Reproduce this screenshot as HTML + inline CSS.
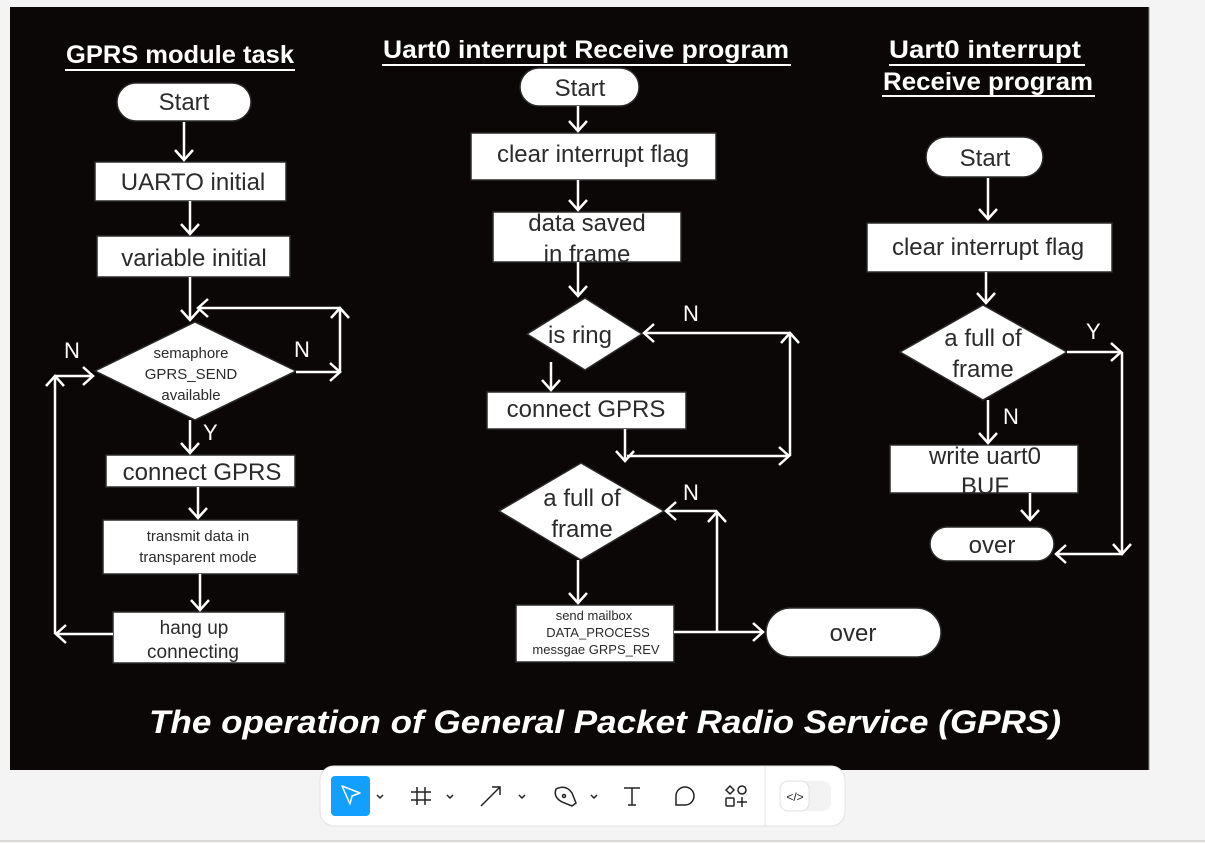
<!DOCTYPE html>
<html><head><meta charset="utf-8"><style>
html,body{margin:0;padding:0;background:#f4f4f4;width:1205px;height:843px;overflow:hidden}
svg{display:block}
</style></head><body>
<svg width="1205" height="843" viewBox="0 0 1205 843" xmlns="http://www.w3.org/2000/svg" font-family="'Liberation Sans', sans-serif">
<defs>
<marker id="a" markerUnits="userSpaceOnUse" markerWidth="24" markerHeight="24" refX="0" refY="0" viewBox="-12 -12 24 24" orient="auto" overflow="visible">
<path d="M-10,-9 L0,0 L-10,9" fill="none" stroke="#fff" stroke-width="2.5"/>
</marker>
<clipPath id="c1"><rect x="493" y="212" width="188" height="50"/></clipPath>
<clipPath id="c2"><rect x="890" y="445" width="188" height="48"/></clipPath>
</defs>
<rect x="0" y="0" width="1205" height="843" fill="#f4f4f4"/>
<rect x="10" y="7" width="1139" height="763" fill="#0c0707"/>
<line x1="1149" y1="7" x2="1149" y2="770" stroke="#888" stroke-width="1"/>
<line x1="0" y1="841" x2="1205" y2="841" stroke="#d8cccc" stroke-width="1.5"/>

<g fill="#fff" font-weight="bold" font-size="25">
<text x="180" y="63" text-anchor="middle" textLength="228" lengthAdjust="spacingAndGlyphs">GPRS module task</text>
<line x1="65" y1="70" x2="295" y2="70" stroke="#fff" stroke-width="2"/>
<text x="586" y="58" text-anchor="middle" textLength="406" lengthAdjust="spacingAndGlyphs">Uart0 interrupt Receive program</text>
<line x1="382" y1="65" x2="791" y2="65" stroke="#fff" stroke-width="2"/>
<text x="985" y="58" text-anchor="middle" textLength="192" lengthAdjust="spacingAndGlyphs">Uart0 interrupt</text>
<line x1="889" y1="65" x2="1085" y2="65" stroke="#fff" stroke-width="2"/>
<text x="988" y="90" text-anchor="middle" textLength="210" lengthAdjust="spacingAndGlyphs">Receive program</text>
<line x1="882" y1="96" x2="1095" y2="96" stroke="#fff" stroke-width="2"/>
</g>

<g fill="#fff" stroke="#2a2a2a" stroke-width="1.5">
<rect x="117" y="83" width="134" height="38" rx="19"/>
<rect x="95" y="162" width="191" height="39"/>
<rect x="97" y="236" width="193" height="41"/>
<polygon points="95,371 195,322 296,371 195,420"/>
<rect x="106" y="455" width="189" height="32"/>
<rect x="103" y="520" width="195" height="54"/>
<rect x="113" y="612" width="172" height="51"/>
<rect x="520" y="68" width="119" height="38" rx="19"/>
<rect x="471" y="133" width="245" height="47"/>
<rect x="493" y="212" width="188" height="50"/>
<polygon points="527,334 585,298 642,334 585,370"/>
<rect x="487" y="392" width="199" height="37"/>
<polygon points="499,511 581,463 664,511 581,560"/>
<rect x="516" y="605" width="158" height="57"/>
<rect x="766" y="608" width="175" height="49" rx="24.5"/>
<rect x="926" y="137" width="117" height="40" rx="20"/>
<rect x="867" y="223" width="245" height="49"/>
<polygon points="900,352 983,305 1067,352 983,400"/>
<rect x="890" y="445" width="188" height="48"/>
<rect x="930" y="527" width="124" height="34" rx="17"/>
</g>

<g fill="#2b2b2b" text-anchor="middle">
<text x="184" y="110" font-size="24">Start</text>
<text x="193" y="190" font-size="24">UARTO initial</text>
<text x="194" y="266" font-size="24">variable initial</text>
<text x="191" y="358" font-size="15">semaphore</text>
<text x="191" y="379" font-size="15">GPRS_SEND</text>
<text x="191" y="400" font-size="15">available</text>
<text x="202" y="480" font-size="24">connect GPRS</text>
<text x="198" y="541" font-size="15">transmit data in</text>
<text x="198" y="562" font-size="15">transparent mode</text>
<text x="194" y="634" font-size="19">hang up</text>
<text x="193" y="658" font-size="19">connecting</text>

<text x="580" y="96" font-size="24">Start</text>
<text x="593" y="162" font-size="24">clear interrupt flag</text>
<g clip-path="url(#c1)"><text x="587" y="231" font-size="24">data saved</text><text x="587" y="262" font-size="24">in frame</text></g>
<text x="580" y="343" font-size="24">is ring</text>
<text x="586" y="417" font-size="24">connect GPRS</text>
<text x="582" y="506" font-size="24">a full of</text>
<text x="582" y="537" font-size="24">frame</text>
<text x="594" y="620" font-size="13">send mailbox</text>
<text x="598" y="637" font-size="13">DATA_PROCESS</text>
<text x="596" y="654" font-size="13">messgae GRPS_REV</text>
<text x="853" y="641" font-size="24">over</text>

<text x="985" y="166" font-size="24">Start</text>
<text x="988" y="255" font-size="24">clear interrupt flag</text>
<text x="983" y="346" font-size="24">a full of</text>
<text x="983" y="377" font-size="24">frame</text>
<g clip-path="url(#c2)"><text x="985" y="464" font-size="24">write uart0</text><text x="985" y="494" font-size="24">BUF</text></g>
<text x="992" y="553" font-size="24">over</text>
</g>

<g stroke="#fff" stroke-width="2.5" fill="none" marker-end="url(#a)">
<line x1="184" y1="122" x2="184" y2="160"/>
<line x1="190" y1="201" x2="190" y2="234"/>
<line x1="190" y1="277" x2="190" y2="320"/>
<polyline points="296,372 340,372" />
<polyline points="340,372 340,308"/>
<polyline points="340,308 198,308"/>
<line x1="190" y1="420" x2="190" y2="453"/>
<line x1="198" y1="487" x2="198" y2="518"/>
<line x1="200" y1="574" x2="200" y2="610"/>
<polyline points="113,634 56,634"/>
<polyline points="55,634 55,376"/>
<polyline points="55,376 93,376"/>
<line x1="578" y1="106" x2="578" y2="131"/>
<line x1="578" y1="180" x2="578" y2="210"/>
<line x1="578" y1="262" x2="578" y2="296"/>
<line x1="551" y1="362" x2="551" y2="390"/>
<line x1="625" y1="429" x2="625" y2="461"/>
<polyline points="627,456 789,456"/>
<polyline points="790,456 790,333"/>
<polyline points="790,333 644,333"/>
<line x1="578" y1="560" x2="578" y2="603"/>
<polyline points="674,632 763,632"/>
<polyline points="717,632 717,512"/>
<polyline points="717,511 666,511"/>
<line x1="988" y1="178" x2="988" y2="219"/>
<line x1="986" y1="272" x2="986" y2="303"/>
<line x1="988" y1="400" x2="988" y2="443"/>
<line x1="1030" y1="493" x2="1030" y2="520"/>
<polyline points="1067,352 1121,352"/>
<polyline points="1122,352 1122,554"/>
<polyline points="1122,554 1056,554"/>
</g>

<g fill="#fff" font-size="22">
<text x="64" y="358">N</text>
<text x="294" y="357">N</text>
<text x="203" y="440">Y</text>
<text x="683" y="321">N</text>
<text x="683" y="500">N</text>
<text x="1086" y="339">Y</text>
<text x="1003" y="424">N</text>
</g>

<text x="605" y="733" text-anchor="middle" fill="#fff" font-size="32" font-weight="bold" font-style="italic" textLength="912" lengthAdjust="spacingAndGlyphs">The operation of General Packet Radio Service (GPRS)</text>

<rect x="320" y="766" width="525" height="60" rx="14" fill="#fff" stroke="#e2e2e2"/>
<line x1="765" y1="766" x2="765" y2="826" stroke="#e6e6e6"/>
<rect x="331" y="776" width="39" height="40" rx="4" fill="#139ffd"/>
<path d="M342,786 L360,793 L352,796 L350,804 Z" fill="none" stroke="#fff" stroke-width="1.5" stroke-linejoin="round"/>
<g fill="none" stroke="#222" stroke-width="1.5">
<path d="M377,795 l3,3 l3,-3 M447,795 l3,3 l3,-3 M519,795 l3,3 l3,-3 M591,795 l3,3 l3,-3"/>
<path d="M417,787 v18 M425,787 v18 M411,792 h20 M411,800 h20"/>
<path d="M481,806 L500,787 M492,787 h8 v8"/>
<path d="M556,789 q10,-5 16,4 l4,10 l-4,3 l-10,-4 q-9,-5 -6,-13 z"/>
<circle cx="564" cy="796" r="1.5"/>
<path d="M624,788 h16 M632,788 v17 M628,805 h8"/>
<path d="M676,805 v-9 a9,9 0 1 1 9,9 z"/>
<path d="M730,786 l4,4 l-4,4 l-4,-4 z"/>
<circle cx="742" cy="790" r="4"/>
<rect x="726" y="798" width="8" height="8" rx="1"/>
<path d="M742,797 v10 M737,802 h10"/>
</g>
<rect x="780" y="781" width="51" height="30" rx="8" fill="#f3f3f3"/>
<rect x="780" y="781" width="29" height="30" rx="8" fill="#fff" stroke="#e0e0e0"/>
<text x="795" y="801" text-anchor="middle" font-size="12" fill="#222">&lt;/&gt;</text>
</svg>
</body></html>
